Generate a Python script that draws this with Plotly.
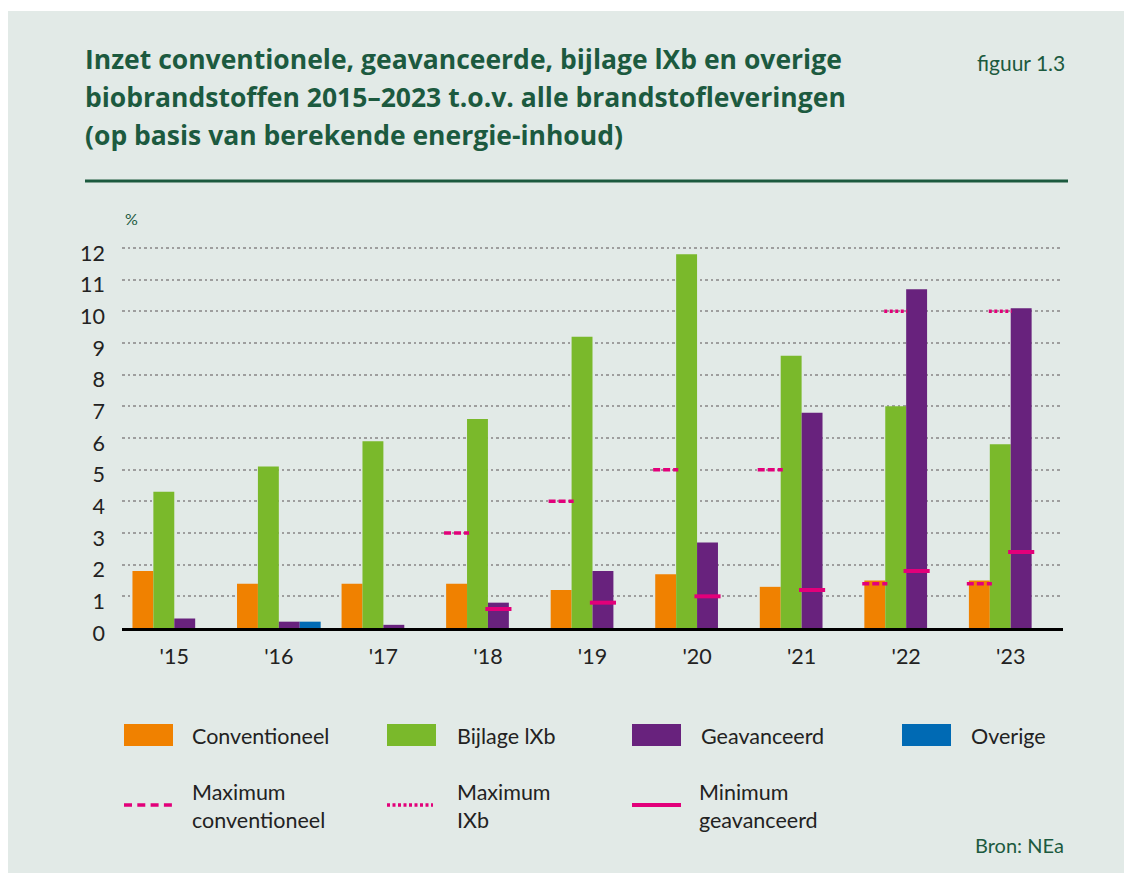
import plotly.graph_objects as go

# ---------------- data ----------------
years = ["'15", "'16", "'17", "'18", "'19", "'20", "'21", "'22", "'23"]
conventioneel = [1.8, 1.4, 1.4, 1.4, 1.2, 1.7, 1.3, 1.5, 1.5]
bijlage_ixb = [4.3, 5.1, 5.9, 6.6, 9.2, 11.8, 8.6, 7.0, 5.8]
geavanceerd = [0.3, 0.2, 0.1, 0.8, 1.8, 2.7, 6.8, 10.7, 10.1]
overige = [0, 0.2, 0, 0, 0, 0, 0, 0, 0]
max_conventioneel = [None, None, None, 3.0, 4.0, 5.0, 5.0, 1.4, 1.4]
max_ixb = [None, None, None, None, None, None, None, 10.0, 10.0]
min_geavanceerd = [None, None, None, 0.6, 0.8, 1.0, 1.2, 1.8, 2.4]
y_ticks = list(range(0, 13))

# ---------------- style ----------------
ORANGE = "#F08100"
GREEN = "#7AB92B"
PURPLE = "#68227D"
BLUE = "#006AB4"
MAGENTA = "#E2007A"
BG = "#E2EAE7"
DARK = "#1C5A3F"
TEXT = "#222222"
FONT = "Lato"
TITLE_FONT = "Open Sans"

W, H = 1124, 865          # figure size (page has 8px body margin)
ML, MR, MT, MB = 114, 69, 224, 245
PW, PH = W - ML - MR, H - MT - MB
PX_PER_UNIT = 380 / 12
Y_TOP = PH / PX_PER_UNIT

BAR_W = 0.2
OFFSETS = [-0.4, -0.2, 0.0, 0.2]


def px(page_x):
    return (page_x - 8 - ML) / PW


def py(page_y):
    return (H - MB - (page_y - 8)) / PH


idx = list(range(len(years)))
fig = go.Figure()

for vals, col, off in [(conventioneel, ORANGE, OFFSETS[0]), (bijlage_ixb, GREEN, OFFSETS[1]),
                       (geavanceerd, PURPLE, OFFSETS[2]), (overige, BLUE, OFFSETS[3])]:
    fig.add_trace(go.Bar(x=idx, y=vals, width=BAR_W, offset=off, marker_color=col,
                         marker_line_width=0, showlegend=False, hoverinfo="skip"))


def segs(vals, off, ext):
    xs, ys = [], []
    for i, v in zip(idx, vals):
        if v is None:
            continue
        c = i + off + BAR_W / 2
        h = BAR_W / 2 + ext
        xs += [c - h, c + h, None]
        ys += [v, v, None]
    return xs, ys


for vals, off, ext, dash, lw in [(max_conventioneel, OFFSETS[0], 0.02, "7px,3px", 3.5),
                                 (max_ixb, OFFSETS[1], 0.01, "3px,2.5px", 3.5),
                                 (min_geavanceerd, OFFSETS[2], 0.025, "solid", 4)]:
    xs, ys = segs(vals, off, ext)
    fig.add_trace(go.Scatter(x=xs, y=ys, mode="lines", line=dict(color=MAGENTA, width=lw, dash=dash),
                             showlegend=False, hoverinfo="skip", connectgaps=False))

shapes = []
annotations = []

# white strip on top of panel
shapes.append(dict(type="rect", xref="paper", yref="paper", x0=px(0), x1=px(1140), y0=py(11), y1=py(0),
                   fillcolor="white", line_width=0, layer="below"))

# title
for txt, yy in [("Inzet conventionele, geavanceerde, bijlage lXb en overige", 59),
                ("biobrandstoffen 2015–2023 t.o.v. alle brandstofleveringen", 97),
                ("(op basis van berekende energie-inhoud)", 135)]:
    annotations.append(dict(text=f"<b>{txt}</b>", x=px(83), y=py(yy), xref="paper", yref="paper",
                            xanchor="left", yanchor="middle", showarrow=False,
                            font=dict(family=TITLE_FONT, size=26.5, color=DARK)))
annotations.append(dict(text="figuur 1.3", x=px(1067), y=py(62), xref="paper", yref="paper",
                        xanchor="right", yanchor="middle", showarrow=False,
                        font=dict(family=FONT, size=21, color=DARK)))
shapes.append(dict(type="line", xref="paper", yref="paper", x0=px(85), x1=px(1068), y0=py(181), y1=py(181),
                   line=dict(color=DARK, width=3)))
annotations.append(dict(text="%", x=px(123), y=py(218), xref="paper", yref="paper",
                        xanchor="left", yanchor="middle", showarrow=False,
                        font=dict(family=FONT, size=16, color=DARK)))

# legend
legend_boxes = [(124, ORANGE, "Conventioneel", 190), (387, GREEN, "Bijlage lXb", 455),
                (632, PURPLE, "Geavanceerd", 699), (902, BLUE, "Overige", 969)]
for x0, col, label, tx in legend_boxes:
    shapes.append(dict(type="rect", xref="paper", yref="paper", x0=px(x0), x1=px(x0 + 49),
                       y0=py(746), y1=py(724), fillcolor=col, line_width=0))
    annotations.append(dict(text=label, x=px(tx), y=py(736), xref="paper", yref="paper",
                            xanchor="left", yanchor="middle", showarrow=False,
                            font=dict(family=FONT, size=21.5, color=TEXT)))

legend_lines = [(124, 172, "8px,5.3px", 3.5, "Maximum<br>conventioneel", 190),
                (387, 433, "3px,2.5px", 3.5, "Maximum<br>IXb", 455),
                (632, 681, "solid", 4, "Minimum<br>geavanceerd", 697)]
for x0, x1, dash, lw, label, tx in legend_lines:
    shapes.append(dict(type="line", xref="paper", yref="paper", x0=px(x0), x1=px(x1),
                       y0=py(805), y1=py(805), line=dict(color=MAGENTA, width=lw, dash=dash)))
    annotations.append(dict(text=label, x=px(tx), y=py(805.5), xref="paper", yref="paper",
                            xanchor="left", yanchor="middle", showarrow=False, align="left",
                            font=dict(family=FONT, size=21.5, color=TEXT)))

annotations.append(dict(text="Bron: NEa", x=px(1066), y=py(845), xref="paper", yref="paper",
                        xanchor="right", yanchor="middle", showarrow=False,
                        font=dict(family=FONT, size=20, color=DARK)))

fig.update_layout(
    width=W, height=H,
    margin=dict(l=ML, r=MR, t=MT, b=MB, autoexpand=False),
    paper_bgcolor=BG, plot_bgcolor=BG,
    barmode="overlay",
    showlegend=False,
    shapes=shapes,
    annotations=annotations,
    font=dict(family=FONT, color=TEXT),
    xaxis=dict(range=[-0.5, 8.5], tickvals=idx, ticktext=years, showgrid=False, zeroline=False,
               showline=True, linecolor="black", linewidth=2.5, ticks="",
               tickfont=dict(family=FONT, size=21.5, color=TEXT), ticklabelstandoff=7, fixedrange=True),
    yaxis=dict(range=[0, Y_TOP], tickvals=y_ticks, showgrid=True, gridcolor="#9E9E9E", gridwidth=2,
               griddash="2.5px,3px", zeroline=False, showline=False, ticks="",
               tickfont=dict(family=FONT, size=21.5, color=TEXT), ticklabelstandoff=16,
               ticklabelshift=5, fixedrange=True),
)

fig.write_html("out.html")
